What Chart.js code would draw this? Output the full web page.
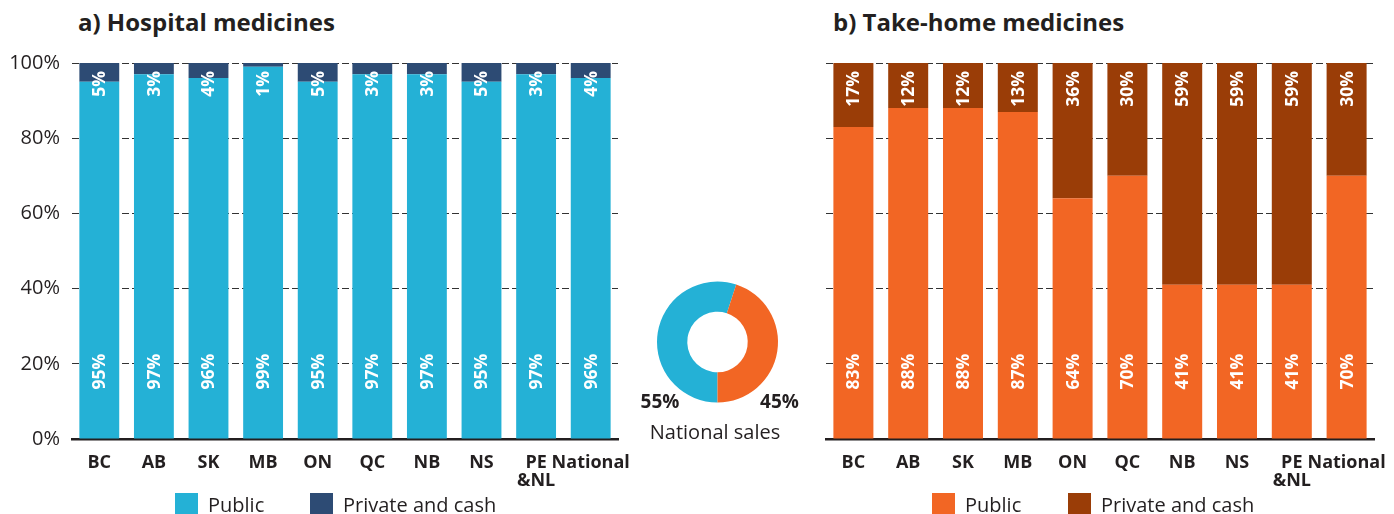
<!DOCTYPE html>
<html>
<head>
<meta charset="utf-8">
<script src="https://cdn.jsdelivr.net/npm/chart.js@4.4.1/dist/chart.umd.min.js"></script>
<style>
  html, body { margin:0; padding:0; background:#fff; }
  body { width:1394px; height:514px; position:relative; overflow:hidden; font-family:"Open Sans", sans-serif; color:#231F20; }
  .box { position:absolute; }
  .title { position:absolute; top:5px; font-weight:700; font-size:24px; line-height:34px; white-space:nowrap; }
  .legend { position:absolute; top:493px; height:23px; font-size:20px; line-height:23px; white-space:nowrap; }
  .legend span.sw { position:absolute; top:0; width:23px; height:23px; }
  .legend span.tx { position:absolute; top:0; }
</style>
</head>
<body>
<div class="title" style="left:78px">a) Hospital medicines</div>
<div class="title" style="left:833px">b) Take-home medicines</div>

<div class="box" style="left:0;top:0;width:640px;height:492px"><canvas id="chartHospital"></canvas></div>
<div class="box" style="left:800px;top:0;width:594px;height:492px"><canvas id="chartTakeHome"></canvas></div>
<div class="box" style="left:630px;top:265px;width:180px;height:185px"><canvas id="chartNational"></canvas></div>

<div class="legend" style="left:0;width:640px">
  <span class="sw" style="left:175px;background:#24B1D6"></span><span class="tx" style="left:208px">Public</span>
  <span class="sw" style="left:310px;background:#2D4B74"></span><span class="tx" style="left:343px">Private and cash</span>
</div>
<div class="legend" style="left:0;width:1394px">
  <span class="sw" style="left:932px;background:#F26624"></span><span class="tx" style="left:965px">Public</span>
  <span class="sw" style="left:1068px;background:#9A3D07"></span><span class="tx" style="left:1101px">Private and cash</span>
</div>

<script>
const PROVINCES = ["BC","AB","SK","MB","ON","QC","NB","NS",["PE","&NL"],"National"];
const hospitalPublic  = [95,97,96,99,95,97,97,95,97,96];
const hospitalPrivate = [5,3,4,1,5,3,3,5,3,4];
const takeHomePublic  = [83,88,88,87,64,70,41,41,41,70];
const takeHomePrivate = [17,12,12,13,36,30,59,59,59,30];
const nationalSales = [55,45];
const nationalLabels = ["Hospital","Take-home"];
const Y_TICKS = [0,20,40,60,80,100];

const COLORS = { blue:"#24B1D6", navy:"#2D4B74", orange:"#F26624", brown:"#9A3D07", ink:"#231F20", grid:"#333333" };
const FONT = "'Open Sans', sans-serif";

// vertical white labels inside the bars
const barLabels = {
  id:"barLabels",
  afterDatasetsDraw(chart){
    const ctx = chart.ctx;
    ctx.save();
    ctx.fillStyle = "#fff";
    ctx.font = "700 17.5px " + FONT;
    ctx.textBaseline = "middle";
    chart.data.datasets.forEach((ds, di) => {
      chart.getDatasetMeta(di).data.forEach((bar, i) => {
        ctx.save();
        if(di === 0){
          ctx.translate(bar.x, bar.base - 49);
          ctx.rotate(-Math.PI/2);
          ctx.textAlign = "left";
        } else {
          ctx.translate(bar.x, bar.y + 8);
          ctx.rotate(-Math.PI/2);
          ctx.textAlign = "right";
        }
        ctx.fillText(ds.data[i] + "%", 0, 1);
        ctx.restore();
      });
    });
    ctx.restore();
  }
};

function makeBarChart(id, pub, priv, cPub, cPriv, showTicks, yWidth, tickPad, padRight){
  new Chart(document.getElementById(id), {
    type:"bar",
    data:{ labels:PROVINCES, datasets:[
      { label:"Public", data:pub, backgroundColor:cPub },
      { label:"Private and cash", data:priv, backgroundColor:cPriv }
    ]},
    options:{
      responsive:true, maintainAspectRatio:false, animation:false,
      layout:{ padding:{ left:0, right:padRight, top:63, bottom:0 } },
      datasets:{ bar:{ categoryPercentage:1, barPercentage:0.73 } },
      plugins:{ legend:{ display:false }, tooltip:{ enabled:false } },
      scales:{
        x:{ stacked:true,
          grid:{ display:false },
          border:{ display:true, color:COLORS.ink, width:2.5 },
          ticks:{ color:COLORS.ink, padding:7, maxRotation:0, autoSkip:false, font:{ family:FONT, size:18, weight:"700", lineHeight:1.0 } },
          afterFit(s){ s.height = 53; }
        },
        y:{ stacked:true, min:0, max:100,
          afterBuildTicks(s){ s.ticks = Y_TICKS.map(v => ({ value:v })); },
          grid:{ drawTicks:false, color:ctx => ctx.tick && ctx.tick.value === 0 ? "rgba(0,0,0,0)" : COLORS.grid, lineWidth:1 },
          border:{ display:false, dash:[7,3] },
          ticks:{ display:showTicks, color:COLORS.ink, padding:tickPad, font:{ family:FONT, size:20 }, callback:v => v + "%" },
          afterFit(s){ s.width = yWidth; }
        }
      }
    },
    plugins:[barLabels]
  });
}

makeBarChart("chartHospital", hospitalPublic, hospitalPrivate, COLORS.blue, COLORS.navy, true, 72, 12, 22);
makeBarChart("chartTakeHome", takeHomePublic, takeHomePrivate, COLORS.orange, COLORS.brown, false, 26, 10, 20);

// percent labels and caption under the doughnut
const donutText = {
  id:"donutText",
  afterDraw(chart){
    const a = chart.chartArea;
    const cx = (a.left + a.right)/2, cy = (a.top + a.bottom)/2;
    const ctx = chart.ctx;
    const vals = chart.data.datasets[0].data;
    ctx.save();
    ctx.fillStyle = COLORS.ink;
    ctx.textAlign = "center";
    ctx.textBaseline = "middle";
    ctx.font = "700 19px " + FONT;
    ctx.fillText(vals[0] + "%", cx - 57.5, cy + 61);
    ctx.fillText(vals[1] + "%", cx + 62, cy + 61);
    ctx.font = "400 20px " + FONT;
    ctx.fillText("National sales", cx - 2.5, cy + 91);
    ctx.restore();
  }
};

new Chart(document.getElementById("chartNational"), {
  type:"doughnut",
  data:{ labels:nationalLabels, datasets:[{ data:nationalSales, backgroundColor:[COLORS.blue, COLORS.orange], borderWidth:0 }] },
  options:{
    responsive:true, maintainAspectRatio:false, animation:false,
    rotation:180, cutout:"50%",
    layout:{ padding:{ left:27, right:32, top:16.5, bottom:47.5 } },
    plugins:{ legend:{ display:false }, tooltip:{ enabled:false } }
  },
  plugins:[donutText]
});
</script>
</body>
</html>
